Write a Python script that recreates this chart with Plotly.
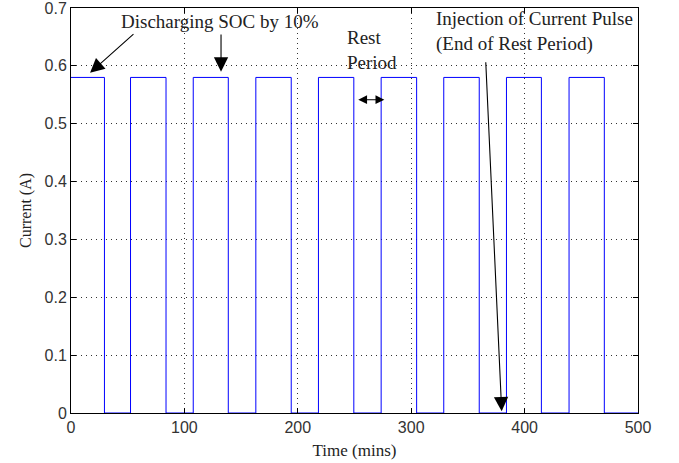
import plotly.graph_objects as go

# pulse on/off times (mins) and current level (A)
pulse_starts = [0, 52.5, 107.8, 163.0, 218.2, 273.5, 328.7, 384.0, 439.2]
pulse_ends = [29.5, 83.8, 138.7, 194.2, 249.4, 304.8, 360.0, 414.8, 470.3]
pulse_current = 0.58
t_end = 500

xs, ys = [], []
for s, e in zip(pulse_starts, pulse_ends):
    if s > 0:
        xs += [s]
        ys += [0]
    xs += [s, e, e]
    ys += [pulse_current, pulse_current, 0]
xs.append(t_end)
ys.append(0)

fig = go.Figure()
fig.add_trace(go.Scatter(x=xs, y=ys, mode="lines",
                         line=dict(color="#0000ff", width=1), showlegend=False,
                         hoverinfo="skip"))

serif = "Liberation Serif, Times New Roman, serif"
sans = "Liberation Sans, Arial, sans-serif"
tc = "#222"

head = dict(showarrow=True, arrowhead=2, arrowsize=2.6, arrowwidth=1.1, arrowcolor="black", text="",
            xref="x", yref="y", axref="x", ayref="y")

ann = []
ann.append(dict(x=131.4, y=0.676, xref="x", yref="y", text="Discharging SOC by 10%",
                showarrow=False, font=dict(family=serif, size=19, color=tc),
                xanchor="center", yanchor="middle"))
ann.append(dict(x=16.8, y=0.588, ax=56.4, ay=0.657, **head))
ann.append(dict(x=132.3, y=0.590, ax=132.3, ay=0.657, **head))
ann.append(dict(x=242.0, y=0.628, xref="x", yref="y", text="Rest<br>Period",
                showarrow=False, font=dict(family=serif, size=19, color=tc),
                xanchor="left", yanchor="middle", align="left"))
ann.append(dict(x=276.3, y=0.5415, ax=252.0, ay=0.5415, xref="x", yref="y", axref="x", ayref="y",
                showarrow=True, arrowhead=2, startarrowhead=2, arrowside="end+start",
                arrowsize=1.6, startarrowsize=1.6, arrowwidth=1.1, arrowcolor="black", text=""))
ann.append(dict(x=320.5, y=0.659, xref="x", yref="y",
                text="Injection of Current Pulse<br>(End of Rest Period)",
                showarrow=False, font=dict(family=serif, size=19, color=tc),
                xanchor="left", yanchor="middle", align="left"))
ann.append(dict(x=379.8, y=0.003, ax=365.7, ay=0.609, **head))

grid = dict(showgrid=True, gridcolor="#333", griddash="1px,4px", gridwidth=1,
            showline=True, linecolor="black", linewidth=1, mirror="ticks",
            ticks="inside", ticklen=5, tickcolor="black", zeroline=False, automargin=False,
            ticklabeloverflow="allow",
            tickfont=dict(family=sans, size=16, color="#333"))

fig.update_layout(
    width=679, height=463,
    margin=dict(l=71, r=41, t=8, b=50),
    plot_bgcolor="white", paper_bgcolor="white",
    annotations=ann,
    xaxis=dict(range=[0, 500.001], tickvals=[0, 100, 200, 300, 400, 500],
               title=dict(text="Time (mins)", font=dict(family=serif, size=17, color=tc),
                          standoff=8), **grid),
    yaxis=dict(range=[0, 0.70001], tickvals=[0, 0.1, 0.2, 0.3, 0.4, 0.5, 0.6, 0.7],
               ticktext=["0", "0.1", "0.2", "0.3", "0.4", "0.5", "0.6", "0.7"],
               title=dict(text="Current (A)", font=dict(family=serif, size=16, color=tc),
                          standoff=8), **grid),
)

fig.write_html("out.html")
